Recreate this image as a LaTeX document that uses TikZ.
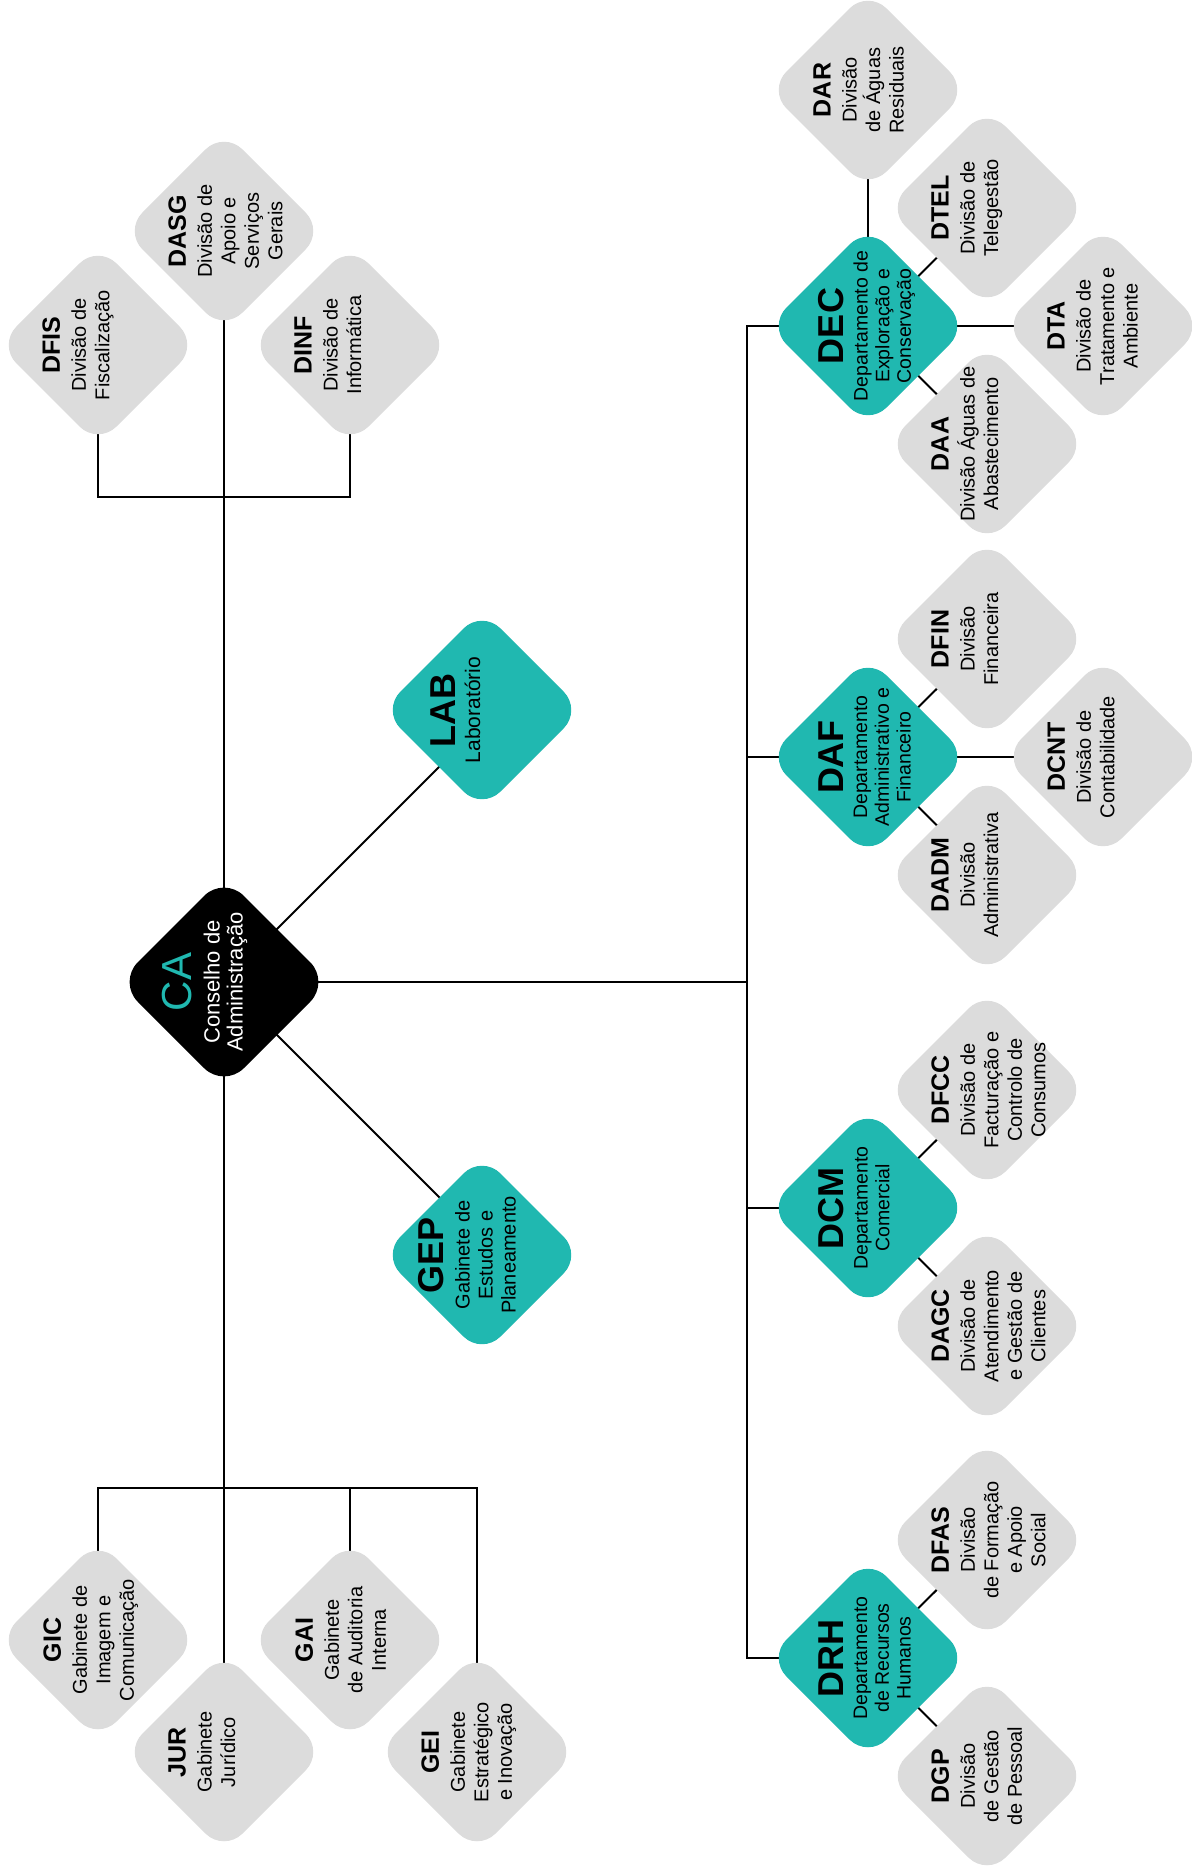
\documentclass[tikz,border=0pt]{standalone}
\usepackage{fontspec}
\setmainfont{Liberation Sans}
\usetikzlibrary{shapes.geometric}
\definecolor{tealc}{RGB}{32,184,176}
\definecolor{boxgray}{RGB}{220,220,220}
\pgfdeclarelayer{bg}
\pgfsetlayers{bg,main}
\newcommand\divab[1]{{\fontsize{12.5}{13}\selectfont\bfseries #1}}
\newcommand\depab[1]{{\fontsize{18}{18}\selectfont\bfseries #1}}
\tikzset{
  shp/.style={diamond, aspect=1, minimum width=100pt, minimum height=100pt, inner sep=0pt, outer sep=0pt, rounded corners=13pt, draw=none},
  graybox/.style={shp, fill=boxgray},
  tealbox/.style={shp, fill=tealc},
  cabox/.style={shp, fill=black, minimum width=106pt, minimum height=106pt, rounded corners=14pt},
  divtxt/.style={rotate=90, anchor=north, align=center, inner sep=0pt, font=\fontsize{10}{11.75}\selectfont},
  deptxt/.style={rotate=90, anchor=north, align=center, inner sep=0pt, font=\fontsize{9.75}{10.85}\selectfont},
  conn/.style={line width=1pt, draw=black}
}
\begin{document}
\begin{tikzpicture}[x=0.5pt, y=-0.5pt]
\useasboundingbox (0,0) rectangle (1191,1866);
% ---------- shapes ----------
\node[cabox] (CA) at (224,982) {};
\node[tealbox] (LAB) at (482,710) {};
\node[tealbox] (GEP) at (482,1255) {};
\node[graybox] (DFIS) at (98,345) {};
\node[graybox] (DASG) at (224,231) {};
\node[graybox] (DINF) at (350,345) {};
\node[graybox] (GIC) at (98,1640) {};
\node[graybox] (JUR) at (224,1752) {};
\node[graybox] (GAI) at (350,1640) {};
\node[graybox] (GEI) at (477,1752) {};
\node[tealbox] (DEC) at (868,326) {};
\node[graybox] (DAR) at (868,90) {};
\node[graybox] (DTEL) at (987,208) {};
\node[graybox] (DTA) at (1103,326) {};
\node[graybox] (DAA) at (987,444) {};
\node[tealbox] (DAF) at (868,757) {};
\node[graybox] (DFIN) at (987,639) {};
\node[graybox] (DCNT) at (1103,757) {};
\node[graybox] (DADM) at (987,875) {};
\node[tealbox] (DCM) at (868,1208) {};
\node[graybox] (DFCC) at (987,1090) {};
\node[graybox] (DAGC) at (987,1326) {};
\node[tealbox] (DRH) at (868,1658) {};
\node[graybox] (DFAS) at (987,1540) {};
\node[graybox] (DGP) at (987,1776) {};
% ---------- texts ----------
\node[rotate=90, anchor=north, align=center, inner sep=0pt, text=white, font=\fontsize{11}{11.5}\selectfont] (CA-t) at (162,982)
  {{\fontsize{21}{21}\selectfont\color{tealc}CA}\\[2.5pt]Conselho de\\Administração};
\node[rotate=90, anchor=north, align=center, inner sep=0pt, font=\fontsize{10.5}{10.5}\selectfont] (LAB-t) at (430,710)
  {\depab{LAB}\\[2pt]Laboratório};
\node[rotate=90, anchor=north, align=center, inner sep=0pt, font=\fontsize{10}{11.5}\selectfont] (GEP-t) at (418,1255)
  {\depab{GEP}\\[1.5pt]Gabinete de\\Estudos e\\Planeamento};
\node[divtxt] (DFIS-t) at (42,345) {\divab{DFIS}\\[1.25pt]Divisão de\\Fiscalização};
\node[divtxt] (DASG-t) at (168,231) {\divab{DASG}\\[1.25pt]Divisão de\\Apoio e\\Serviços\\Gerais};
\node[divtxt] (DINF-t) at (294,345) {\divab{DINF}\\[1.25pt]Divisão de\\Informática};
\node[divtxt] (GIC-t) at (43,1640) {\divab{GIC}\\[1.25pt]Gabinete de\\Imagem e\\Comunicação};
\node[divtxt] (JUR-t) at (168,1752) {\divab{JUR}\\[1.25pt]Gabinete\\Jurídico};
\node[divtxt] (GAI-t) at (295,1640) {\divab{GAI}\\[1.25pt]Gabinete\\de Auditoria\\Interna};
\node[divtxt] (GEI-t) at (421,1752) {\divab{GEI}\\[1.25pt]Gabinete\\Estratégico\\e Inovação};
\node[deptxt] (DEC-t) at (818,326) {\depab{DEC}\\[1.15pt]Departamento de\\Exploração e\\Conservação};
\node[divtxt] (DAR-t) at (813,90) {\divab{DAR}\\[1.25pt]Divisão\\de Águas\\Residuais};
\node[divtxt] (DTEL-t) at (931,208) {\divab{DTEL}\\[1.25pt]Divisão de\\Telegestão};
\node[divtxt] (DTA-t) at (1047,326) {\divab{DTA}\\[1.25pt]Divisão de\\Tratamento e\\Ambiente};
\node[divtxt] (DAA-t) at (931,444) {\divab{DAA}\\[1.25pt]Divisão Águas de\\Abastecimento};
\node[deptxt] (DAF-t) at (818,757) {\depab{DAF}\\[1.15pt]Departamento\\Administrativo e\\Financeiro};
\node[divtxt] (DFIN-t) at (931,639) {\divab{DFIN}\\[1.25pt]Divisão\\Financeira};
\node[divtxt] (DCNT-t) at (1047,757) {\divab{DCNT}\\[1.25pt]Divisão de\\Contabilidade};
\node[divtxt] (DADM-t) at (931,875) {\divab{DADM}\\[1.25pt]Divisão\\Administrativa};
\node[deptxt] (DCM-t) at (818,1208) {\depab{DCM}\\[1.15pt]Departamento\\Comercial};
\node[divtxt] (DFCC-t) at (931,1090) {\divab{DFCC}\\[1.25pt]Divisão de\\Facturação e\\Controlo de\\Consumos};
\node[divtxt] (DAGC-t) at (931,1326) {\divab{DAGC}\\[1.25pt]Divisão de\\Atendimento\\e Gestão de\\Clientes};
\node[deptxt] (DRH-t) at (818,1658) {\depab{DRH}\\[1.15pt]Departamento\\de Recursos\\Humanos};
\node[divtxt] (DFAS-t) at (931,1540) {\divab{DFAS}\\[1.25pt]Divisão\\de Formação\\e Apoio\\Social};
\node[divtxt] (DGP-t) at (931,1776) {\divab{DGP}\\[1.25pt]Divisão\\de Gestão\\de Pessoal};
% ---------- connectors ----------
\coordinate (tb) at (224,497);
\coordinate (bb) at (224,1488);
\coordinate (rb) at (747,982);
\coordinate (labIn) at (474,732);
\coordinate (gepIn) at (474,1232);
\begin{pgfonlayer}{bg}
\fill[white] (0,0) rectangle (1191,1866);
\draw[conn] (DASG.center) -- (JUR.center);
\draw[conn] (DFIS.center) |- (tb) -| (DINF.center);
\draw[conn] (GIC.center) |- (bb) -| (GEI.center);
\draw[conn] (bb) -| (GAI.center);
\draw[conn] (CA.center) -- (labIn);
\draw[conn] (CA.center) -- (gepIn);
\draw[conn] (CA.center) -- (rb);
\draw[conn] (DEC.center) -| (rb) |- (DRH.center);
\draw[conn] (rb) |- (DAF.center);
\draw[conn] (rb) |- (DCM.center);
\draw[conn] (DEC.center) -- (DAR.center);
\draw[conn] (DEC.center) -- (DTEL.center);
\draw[conn] (DEC.center) -- (DTA.center);
\draw[conn] (DEC.center) -- (DAA.center);
\draw[conn] (DAF.center) -- (DFIN.center);
\draw[conn] (DAF.center) -- (DCNT.center);
\draw[conn] (DAF.center) -- (DADM.center);
\draw[conn] (DCM.center) -- (DFCC.center);
\draw[conn] (DCM.center) -- (DAGC.center);
\draw[conn] (DRH.center) -- (DFAS.center);
\draw[conn] (DRH.center) -- (DGP.center);
\end{pgfonlayer}
\end{tikzpicture}
\end{document}
